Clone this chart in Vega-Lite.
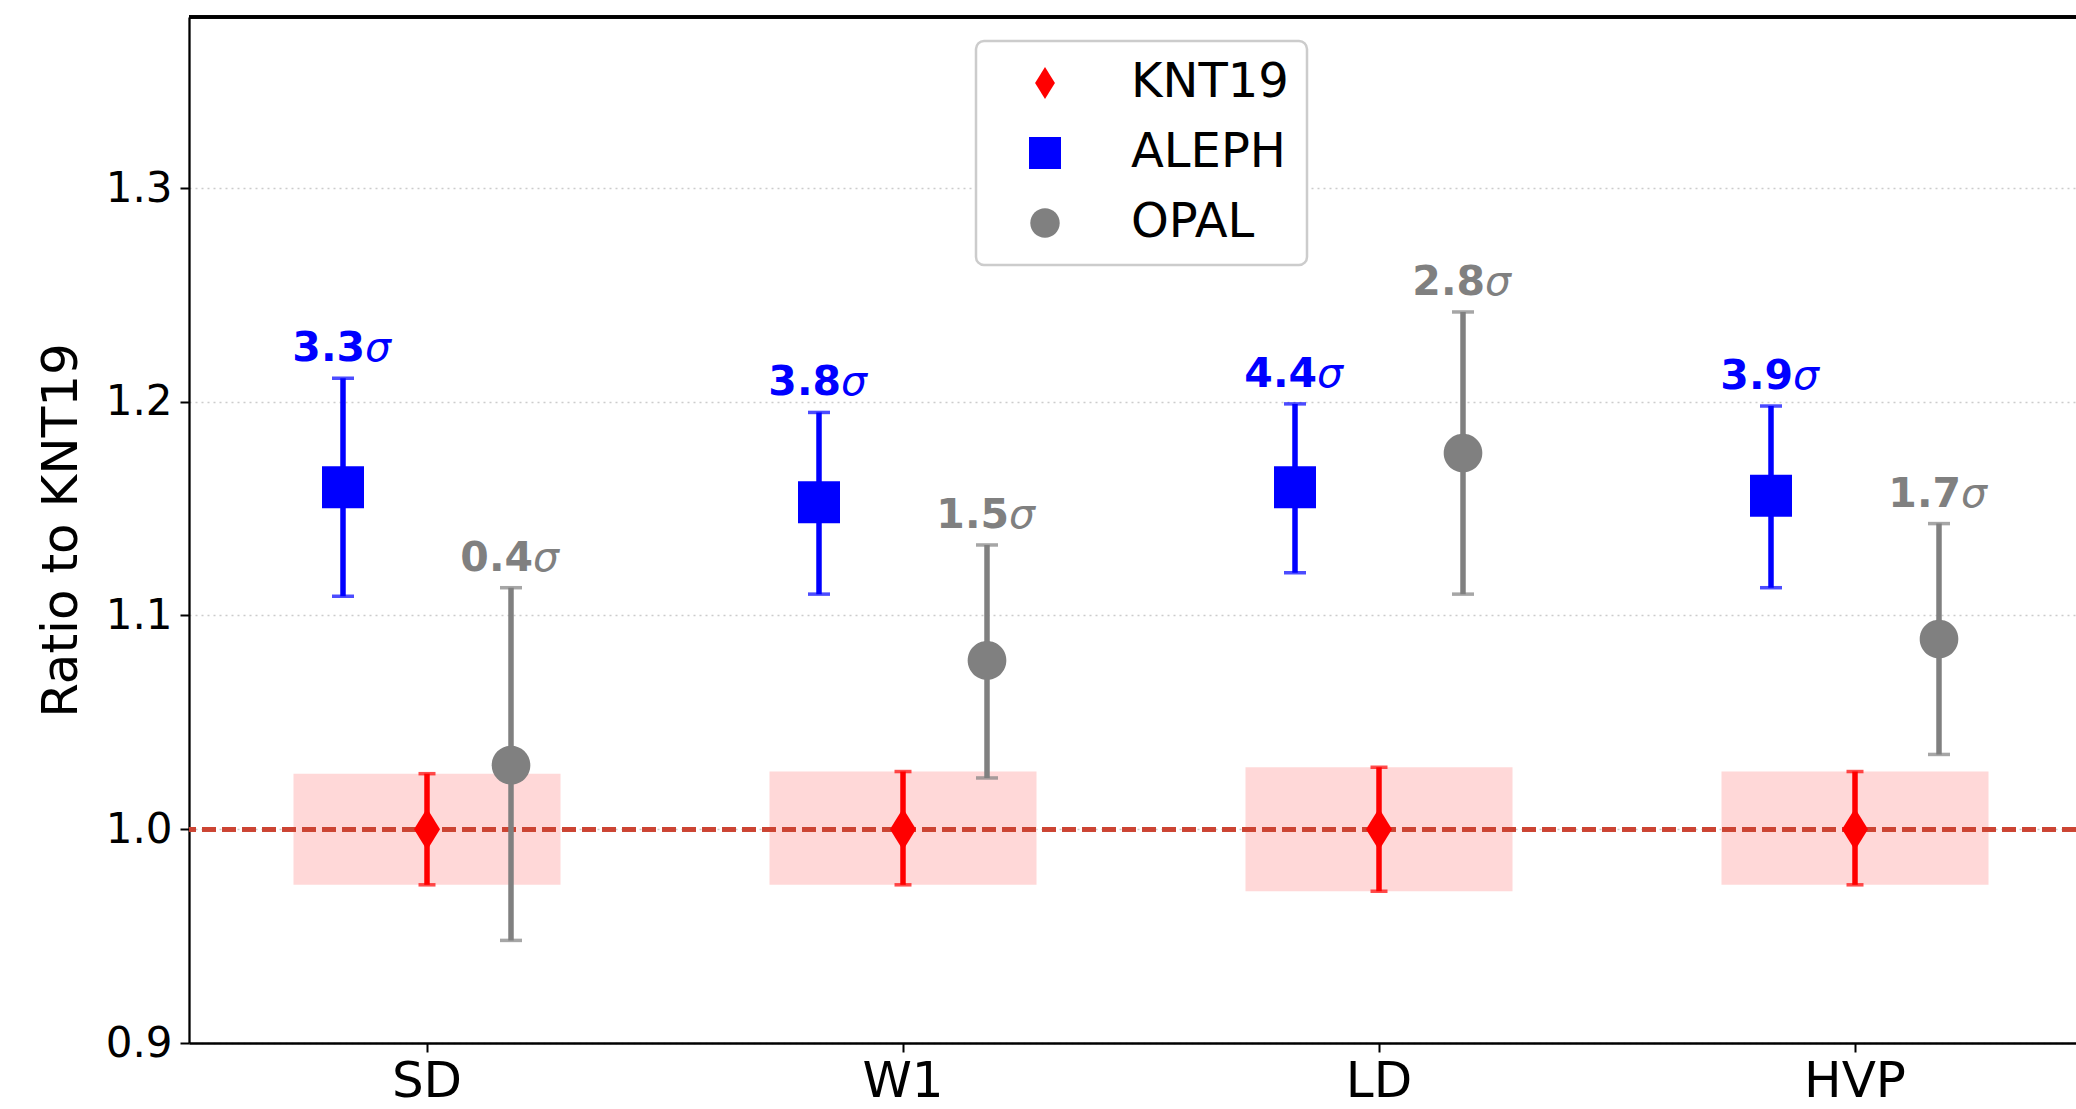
{
  "$schema": "https://vega.github.io/schema/vega-lite/v6.json",
  "width": 1887,
  "height": 1026,
  "autosize": {"type": "none"},
  "padding": {"left": 189, "top": 17, "right": 0, "bottom": 66},
  "background": "white",
  "config": {
    "view": {"stroke": null},
    "font": "DejaVu Sans",
    "axis": {"labelFont": "DejaVu Sans", "titleFont": "DejaVu Sans", "labelColor": "black", "titleColor": "black", "tickColor": "black", "domainColor": "black", "domainWidth": 2.3, "tickWidth": 2, "tickSize": 9},
    "legend": {"labelFont": "DejaVu Sans", "padding": 18, "symbolOffset": 27, "labelOffset": 62, "labelFontSize": 48, "labelColor": "black", "rowPadding": 22,
      "symbolSize": 1024, "symbolStrokeWidth": 0, "strokeColor": "#cccccc", "strokeWidth": 2.5, "cornerRadius": 8, "fillColor": "white"}
  },
  "data": {"values": [
    {"cat": "SD", "series": "KNT19", "value": 1.0, "lo": 0.974, "hi": 1.026, "sig": ""},
    {"cat": "W1", "series": "KNT19", "value": 1.0, "lo": 0.974, "hi": 1.027, "sig": ""},
    {"cat": "LD", "series": "KNT19", "value": 1.0, "lo": 0.971, "hi": 1.029, "sig": ""},
    {"cat": "HVP", "series": "KNT19", "value": 1.0, "lo": 0.974, "hi": 1.027, "sig": ""},
    {"cat": "SD", "series": "ALEPH", "value": 1.160, "lo": 1.109, "hi": 1.211, "sig": "3.3"},
    {"cat": "W1", "series": "ALEPH", "value": 1.153, "lo": 1.110, "hi": 1.195, "sig": "3.8"},
    {"cat": "LD", "series": "ALEPH", "value": 1.160, "lo": 1.120, "hi": 1.199, "sig": "4.4"},
    {"cat": "HVP", "series": "ALEPH", "value": 1.156, "lo": 1.113, "hi": 1.198, "sig": "3.9"},
    {"cat": "SD", "series": "OPAL", "value": 1.030, "lo": 0.948, "hi": 1.113, "sig": "0.4"},
    {"cat": "W1", "series": "OPAL", "value": 1.079, "lo": 1.024, "hi": 1.133, "sig": "1.5"},
    {"cat": "LD", "series": "OPAL", "value": 1.176, "lo": 1.110, "hi": 1.242, "sig": "2.8"},
    {"cat": "HVP", "series": "OPAL", "value": 1.089, "lo": 1.035, "hi": 1.143, "sig": "1.7"}
  ]},
  "encoding": {
    "x": {"field": "cat", "type": "nominal", "sort": ["SD", "W1", "LD", "HVP"],
      "scale": {"range": [0, 1904], "paddingInner": 0, "paddingOuter": 0},
      "axis": {"title": null, "labelFontSize": 50, "labelAngle": 0, "labelPadding": 4, "grid": false}}
  },
  "layer": [
    {
      "transform": [{"filter": "datum.series === 'KNT19'"}],
      "mark": {"type": "bar", "width": 267, "color": "#ffd8d8"},
      "encoding": {
        "y": {"field": "hi", "type": "quantitative",
          "scale": {"domain": [0.9, 1.38], "nice": false, "zero": false},
          "axis": {"title": "Ratio to KNT19", "titleFontSize": 50, "titleFontWeight": "normal", "titlePadding": 19,
            "values": [0.9, 1.0, 1.1, 1.2, 1.3], "format": ".1f", "labelFontSize": 42, "labelPadding": 8,
            "grid": true, "gridColor": "#cccccc", "gridDash": [2, 4], "gridWidth": 1.6}},
        "y2": {"field": "lo"}
      }
    },
    {
      "mark": {"type": "rule", "color": "#cc4433", "strokeWidth": 4, "strokeDash": [14, 6]},
      "encoding": {"y": {"datum": 1.0}, "x": null}
    },
    {
      "mark": {"type": "rule", "color": "black", "strokeWidth": 2.3},
      "encoding": {"y": {"datum": 1.38}, "x": null}
    },
    {
      "mark": {"type": "rule", "strokeWidth": 5.5},
      "encoding": {
        "xOffset": {"field": "series", "type": "nominal", "scale": {"type": "point", "domain": ["ALEPH", "KNT19", "OPAL"], "range": [154, 322], "padding": 0}},
        "y": {"field": "lo", "type": "quantitative"},
        "y2": {"field": "hi"},
        "color": {"condition": [{"test": "datum.series === 'KNT19'", "value": "#ff0000"}, {"test": "datum.series === 'ALEPH'", "value": "#0000ff"}], "value": "#808080"}
      }
    },
    {
      "transform": [{"fold": ["lo", "hi"], "as": ["end", "yv"]}, {"filter": "datum.series === 'KNT19'"}],
      "mark": {"type": "tick", "size": 17, "thickness": 3.5, "color": "#ff0000"},
      "encoding": {
        "xOffset": {"field": "series", "type": "nominal"},
        "y": {"field": "yv", "type": "quantitative"}
      }
    },
    {
      "transform": [{"fold": ["lo", "hi"], "as": ["end", "yv"]}, {"filter": "datum.series !== 'KNT19'"}],
      "mark": {"type": "tick", "size": 22, "thickness": 3.5},
      "encoding": {
        "xOffset": {"field": "series", "type": "nominal"},
        "y": {"field": "yv", "type": "quantitative"},
        "color": {"condition": [{"test": "datum.series === 'ALEPH'", "value": "#0000ff"}], "value": "#808080"}
      }
    },
    {
      "mark": {"type": "point", "filled": true, "opacity": 1, "size": 1764, "strokeWidth": 0},
      "encoding": {
        "xOffset": {"field": "series", "type": "nominal"},
        "y": {"field": "value", "type": "quantitative"},
        "color": {"field": "series", "type": "nominal",
          "scale": {"domain": ["KNT19", "ALEPH", "OPAL"], "range": ["#ff0000", "#0000ff", "#808080"]},
          "legend": {"title": null, "orient": "none", "legendX": 787, "legendY": 24}},
        "shape": {"field": "series", "type": "nominal",
          "scale": {"domain": ["KNT19", "ALEPH", "OPAL"], "range": ["M0,-1L0.62,0L0,1L-0.62,0Z", "square", "M-0.92,0A0.92,0.92 0 1,0 0.92,0A0.92,0.92 0 1,0 -0.92,0Z"]},
          "legend": {"title": null, "orient": "none", "legendX": 787, "legendY": 24}}
      }
    },
    {
      "transform": [{"filter": "datum.series !== 'KNT19'"}],
      "mark": {"type": "text", "fontSize": 41, "fontWeight": "bold", "align": "right", "baseline": "alphabetic", "dx": 22, "dy": -17},
      "encoding": {
        "xOffset": {"field": "series", "type": "nominal"},
        "y": {"field": "hi", "type": "quantitative"},
        "text": {"field": "sig"},
        "color": {"condition": [{"test": "datum.series === 'ALEPH'", "value": "#0000ff"}], "value": "#808080"}
      }
    },
    {
      "transform": [{"filter": "datum.series !== 'KNT19'"}],
      "mark": {"type": "text", "text": "σ", "fontSize": 41, "fontStyle": "italic", "align": "left", "baseline": "alphabetic", "dx": 22, "dy": -17},
      "encoding": {
        "xOffset": {"field": "series", "type": "nominal"},
        "y": {"field": "hi", "type": "quantitative"},
        "color": {"condition": [{"test": "datum.series === 'ALEPH'", "value": "#0000ff"}], "value": "#808080"}
      }
    }
  ]
}
